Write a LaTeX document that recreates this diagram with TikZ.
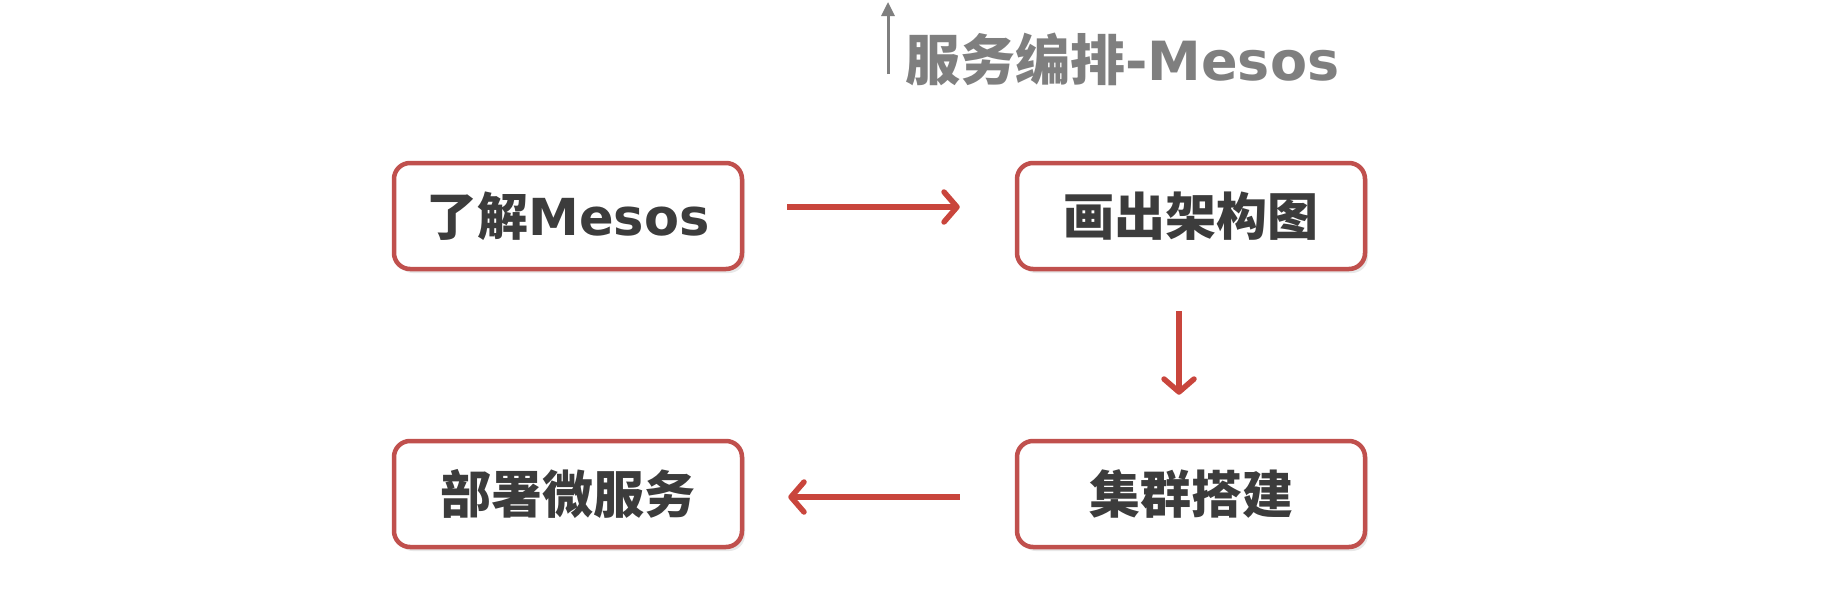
\documentclass[tikz,border=0pt]{standalone}
\usepackage{fontspec}
\newfontfamily\cjk{Noto Sans CJK SC}
\newfontfamily\latf{DejaVu Sans}
\usetikzlibrary{arrows.meta,shadows}
\definecolor{boxred}{HTML}{C0504D}
\definecolor{arrred}{HTML}{C9453C}
\definecolor{txtdark}{HTML}{3C3C3C}
\definecolor{titlegray}{HTML}{7F7F7F}
\newcommand{\boxlat}[1]{{\latf\bfseries\fontsize{51}{60}\selectfont #1}}
\newcommand{\titlelat}[1]{{\latf\bfseries\fontsize{54}{64}\selectfont #1}}
\tikzset{
  stepbox/.style={draw=boxred, line width=4.5pt, rounded corners=16pt, fill=white,
    minimum width=348pt, minimum height=106pt, inner sep=0pt,
    text=txtdark, font=\cjk\bfseries\fontsize{51}{60}\selectfont,
    drop shadow={opacity=0.18, shadow xshift=3pt, shadow yshift=-4pt}},
  flowarrow/.style={draw=arrred, line width=5.5pt,
    -{Straight Barb[length=13pt,width=30pt,line cap=round,line join=round]}},
  titlearrow/.style={draw=titlegray, line width=3pt,
    -{Triangle[length=14pt,width=13pt]}}
}
\begin{document}
\begin{tikzpicture}[x=1pt,y=-1pt]
\useasboundingbox[fill=white] (0,0) rectangle (1835,589);
% title
\coordinate (tbot) at (888,74);
\coordinate (ttop) at (888,2);
\draw[titlearrow] (tbot) -- (ttop);
\node[anchor=base west, inner sep=0pt, text=titlegray,
  font=\cjk\bfseries\fontsize{55}{64}\selectfont] (title) at (905,80) {服务编排\titlelat{-Mesos}};
% boxes
\node[stepbox] (b1) at (568,216) {了解\boxlat{Mesos}};
\node[stepbox] (b2) at (1191,216) {画出架构图};
\node[stepbox] (b3) at (568,494) {部署微服务};
\node[stepbox] (b4) at (1191,494) {集群搭建};
% arrows
\draw[flowarrow, shorten <=43pt, shorten >=55pt] ([yshift=9pt]b1.east) -- ([yshift=9pt]b2.west);
\draw[flowarrow, shorten <=40pt, shorten >=44pt] ([xshift=-12pt]b2.south) -- ([xshift=-12pt]b4.north);
\draw[flowarrow, shorten <=55pt, shorten >=44pt] ([yshift=-3pt]b4.west) -- ([yshift=-3pt]b3.east);
\end{tikzpicture}
\end{document}
